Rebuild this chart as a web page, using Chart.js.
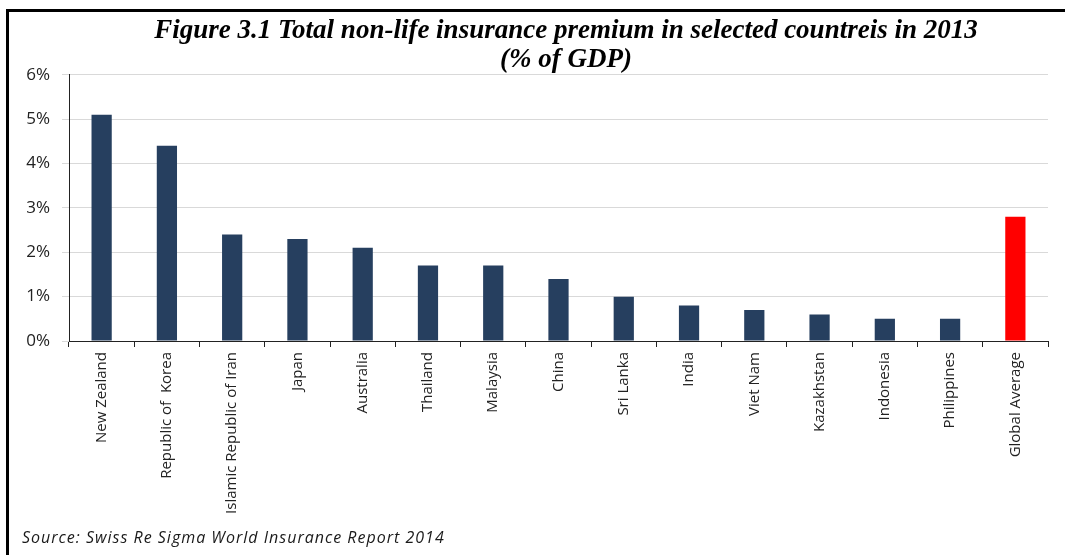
<!DOCTYPE html>
<html>
<head>
<meta charset="utf-8">
<script src="https://cdn.jsdelivr.net/npm/chart.js@4.4.1/dist/chart.umd.min.js"></script>
<style>
  body { margin: 0; background: #fff; }
  #wrap { position: relative; width: 1065px; height: 555px; overflow: hidden; }
  #myChart { position: absolute; left: 0; top: 0; }
  #frame {
    position: absolute; left: 6px; top: 9px; width: 1065px; height: 555px;
    border-top: 3px solid #000; border-left: 3px solid #000; pointer-events: none;
  }
  #source {
    position: absolute; left: 22px; top: 526px;
    font: italic 16px "Open Sans", sans-serif; letter-spacing: 1px; color: #1a1a1a;
  }
</style>
</head>
<body>
<div id="wrap">
  <canvas id="myChart" width="1065" height="555"></canvas>
  <div id="frame"></div>
  <div id="source">Source: Swiss Re Sigma World Insurance Report 2014</div>
</div>
<script>
let countries = ['New Zealand', 'Republic of  Korea', 'Islamic Republic of Iran', 'Japan', 'Australia',
  'Thailand', 'Malaysia', 'China', 'Sri Lanka', 'India', 'Viet Nam', 'Kazakhstan', 'Indonesia',
  'Philippines', 'Global Average'];
let premium = [5.1, 4.4, 2.4, 2.3, 2.1, 1.7, 1.7, 1.4, 1.0, 0.8, 0.7, 0.6, 0.5, 0.5, 2.8];
let yTicks = [0, 1, 2, 3, 4, 5, 6];
let titleLines = ['Figure 3.1 Total non-life insurance premium in selected countreis in 2013', '(% of GDP)'];

let colors = countries.map(c => c == 'Global Average' ? '#ff0000' : '#263f5f');

var ctx = document.getElementById('myChart').getContext('2d');
let myChart = new Chart(ctx, {
  type: 'bar',
  data: {
    labels: countries,
    datasets: [{
      label: '% of GDP',
      data: premium,
      backgroundColor: colors,
      borderWidth: 0,
      barPercentage: 0.31,
      categoryPercentage: 1
    }]
  },
  options: {
    responsive: false,
    animation: false,
    layout: { padding: { left: 0, right: 17, top: 0, bottom: 0 } },
    plugins: {
      legend: { display: false },
      tooltip: { enabled: false },
      title: {
        display: true,
        text: titleLines,
        color: '#000',
        font: { family: 'Liberation Serif', size: 27, weight: 'bold', style: 'italic', lineHeight: 1.07 },
        padding: { top: 17, bottom: 0 }
      }
    },
    scales: {
      x: {
        grid: { drawOnChartArea: false, tickLength: 6, color: '#222', offset: true },
        border: { color: '#222' },
        ticks: {
          autoSkip: false, minRotation: 90, maxRotation: 90, padding: 5,
          color: '#222', font: { family: 'Open Sans', size: 15 }
        },
        afterFit: (scale) => { scale.height = 214; }
      },
      y: {
        min: 0,
        max: 6,
        afterBuildTicks: (scale) => { scale.ticks = yTicks.map(v => ({ value: v })); },
        grid: { color: '#d9d9d9', tickLength: 7 },
        border: { color: '#222' },
        ticks: {
          padding: 12, color: '#222', font: { family: 'Open Sans', size: 17 },
          callback: (v) => v + '%'
        },
        afterFit: (scale) => { scale.width = 69; }
      }
    }
  },
  plugins: [{
    // move the title a bit right, like the original
    afterLayout: (chart) => {
      chart.titleBlock.left = chart.chartArea.left + 15;
    }
  }]
});
</script>
</body>
</html>
